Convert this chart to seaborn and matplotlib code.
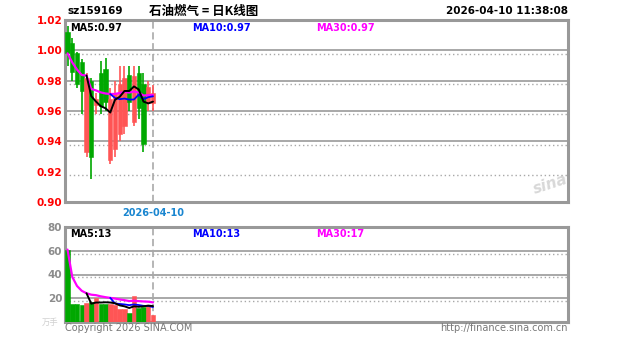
import numpy as np
import pandas as pd
import matplotlib
matplotlib.use("Agg")
import matplotlib.pyplot as plt
import seaborn as sns

# ---- daily K-line data (sz159169) ----
opens  = [1.012, 1.005, 0.998, 0.992, 0.933, 0.980, 0.964, 0.985, 0.988, 0.928,
          0.935, 0.945, 0.950, 0.984, 0.953, 0.985, 0.978, 0.965, 0.965]
highs  = [1.016, 1.008, 0.999, 0.994, 0.985, 0.982, 0.972, 0.993, 0.995, 0.975,
          0.980, 0.990, 0.990, 0.990, 0.990, 0.990, 0.985, 0.980, 0.977]
lows   = [0.990, 0.980, 0.975, 0.958, 0.930, 0.915, 0.958, 0.958, 0.960, 0.925,
          0.930, 0.940, 0.945, 0.960, 0.950, 0.955, 0.933, 0.960, 0.960]
closes = [0.998, 0.986, 0.978, 0.973, 0.982, 0.930, 0.968, 0.963, 0.966, 0.968,
          0.972, 0.978, 0.982, 0.966, 0.983, 0.962, 0.938, 0.976, 0.972]
volumes = [61, 15, 15, 14, 16, 17, 20, 15, 15, 15,
           14, 11, 11, 8, 22, 12, 13, 14, 6]

code = "sz159169"
title = "石油燃气 = 日K线图"
stamp = "2026-04-10 11:38:08"
last_date = "2026-04-10"
price_ticks = [0.90, 0.92, 0.94, 0.96, 0.98, 1.00, 1.02]
vol_ticks = [20, 40, 60, 80]

RED = "#ff5555"
GREEN = "#00a800"
GRID = "#a8a8a8"
FRAME = "#999999"

df = pd.DataFrame({"open": opens, "high": highs, "low": lows,
                   "close": closes, "vol": volumes})
df["idx"] = np.arange(len(df))
df["up"] = df["close"] >= df["open"]
for n in (5, 10, 30):
    mp = n if n < 30 else 1
    df[f"ma{n}"] = df["close"].rolling(n, min_periods=mp).mean()
    df[f"vma{n}"] = df["vol"].rolling(n, min_periods=mp).mean()

sns.set_theme(style="white")
plt.rcParams["font.family"] = ["DejaVu Sans", "Noto Sans CJK SC"]

W, H = 627, 342
fig = plt.figure(figsize=(W / 100, H / 100), dpi=100)
fig.patch.set_facecolor("white")
axp = fig.add_axes([65 / W, 1 - 202 / H, 503 / W, 182 / H])
axv = fig.add_axes([65 / W, 1 - 322 / H, 503 / W, 95 / H])

xlim = (-0.53, 105.4)
mark_x = df["idx"].iloc[-1]

# ---- price panel ----
for ax in (axp, axv):
    ax.set_xlim(*xlim)
    ax.set_facecolor("white")
    for s in ax.spines.values():
        s.set_color(FRAME)
        s.set_linewidth(2.2)
    ax.set_xticks([])
    ax.axvline(mark_x, color="#b0b0b0", lw=1.3, ls=(0, (4, 2)), zorder=1)

axp.set_ylim(0.90, 1.02)
for t in price_ticks[1:-1]:
    if t != 0.92:
        axp.axhline(t, color=GRID, lw=1.4, zorder=1)
    axp.axhline(t - 0.0022, color=GRID, lw=1.0, ls=(0, (1, 2)), zorder=1)

cols = [RED if u else GREEN for u in df["up"]]
axp.vlines(df["idx"], df["low"], df["high"], colors=cols, lw=1.2, zorder=2)
axp.bar(df["idx"], (df["close"] - df["open"]).abs().clip(lower=0.001),
        bottom=df[["open", "close"]].min(axis=1), width=0.9,
        color=cols, edgecolor=cols, lw=0.4, zorder=3)

for n, c, lw in ((30, "#ff00ff", 1.6), (10, "#0000ff", 1.3), (5, "#000000", 1.4)):
    sns.lineplot(data=df, x="idx", y=f"ma{n}", ax=axp, color=c, lw=lw, zorder=4)

axp.set_yticks(price_ticks)
axp.set_yticklabels([f"{t:.2f}" for t in price_ticks], color="#ff0000",
                    fontsize=7.5, fontweight="bold")
axp.tick_params(axis="y", length=0, pad=2)
axp.set_xlabel("")
axp.set_ylabel("")

ma_font = dict(fontsize=7, fontweight="bold", va="top", transform=axp.transAxes)
axp.text(5 / 503, 0.985, f"MA5:{df['ma5'].iloc[-1]:.2f}", color="black", **ma_font)
axp.text(127 / 503, 0.985, f"MA10:{df['ma10'].iloc[-1]:.2f}", color="#0000ff", **ma_font)
axp.text(251 / 503, 0.985, f"MA30:{df['ma30'].iloc[-1]:.2f}", color="#ff00ff", **ma_font)

axp.text(mark_x, -0.035, last_date, color="#1a86d0", fontsize=7,
         fontweight="bold", ha="center", va="top",
         transform=axp.get_xaxis_transform())

axp.text(0.965, 0.1, "sina", color="#d8d8d8", fontsize=11, fontstyle="italic",
         fontweight="bold", rotation=18, ha="center", va="center",
         transform=axp.transAxes, zorder=0)

# ---- volume panel ----
axv.set_ylim(0, 80)
for t in vol_ticks[:-1]:
    axv.axhline(t, color=GRID, lw=1.4, zorder=1)
    axv.axhline(t - 2.5, color=GRID, lw=1.0, ls=(0, (1, 2)), zorder=1)
axv.bar(df["idx"], df["vol"], width=0.95, color=cols, edgecolor=cols,
        lw=0.4, zorder=3)
for n, c, lw in ((30, "#ff00ff", 1.6), (10, "#0000ff", 1.3), (5, "#000000", 1.4)):
    sns.lineplot(data=df, x="idx", y=f"vma{n}", ax=axv, color=c, lw=lw, zorder=4)
axv.set_yticks(vol_ticks)
axv.set_yticklabels([str(t) for t in vol_ticks], color="#8c8c8c",
                    fontsize=7.5, fontweight="bold")
axv.tick_params(axis="y", length=0, pad=2)
axv.set_xlabel("")
axv.set_ylabel("")
axv.text(-0.012, 0.0, "万手", color="#d0d0d0", fontsize=6, ha="right",
         va="center", transform=axv.transAxes,
         family=["Noto Sans CJK SC", "DejaVu Sans"])

vf = dict(fontsize=7, fontweight="bold", va="top", transform=axv.transAxes)
axv.text(5 / 503, 0.975, f"MA5:{df['vma5'].iloc[-1]:.0f}", color="black", **vf)
axv.text(127 / 503, 0.975, f"MA10:{df['vma10'].iloc[-1]:.0f}", color="#0000ff", **vf)
axv.text(251 / 503, 0.975, f"MA30:{df['vma30'].iloc[-1]:.0f}", color="#ff00ff", **vf)

# ---- header and footer ----
fig.text(67 / W, 1 - 11 / H, code, fontsize=7.5, fontweight="bold",
         va="center", ha="left", color="black")
fig.text(204 / W, 1 - 11 / H, title, fontsize=9, fontweight="bold",
         va="center", ha="center", color="black",
         family=["Noto Sans CJK SC", "DejaVu Sans"])
fig.text(568 / W, 1 - 11 / H, stamp, fontsize=7.5, fontweight="bold",
         va="center", ha="right", color="black")
fig.text(65 / W, 1 - 328 / H, "Copyright 2026 SINA.COM", fontsize=7,
         va="center", ha="left", color="#777777")
fig.text(568 / W, 1 - 328 / H, "http://finance.sina.com.cn", fontsize=7,
         va="center", ha="right", color="#777777")

fig.savefig("out.png", dpi=100, facecolor="white")
